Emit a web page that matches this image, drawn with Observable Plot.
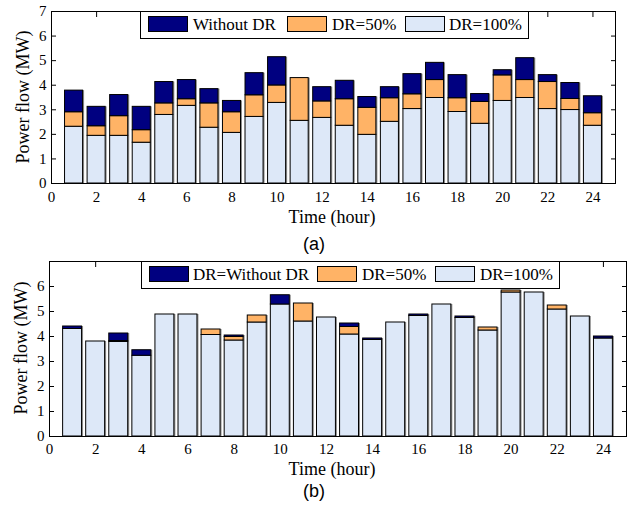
<!DOCTYPE html>
<html><head><meta charset="utf-8">
<script src="https://cdn.jsdelivr.net/npm/d3@7"></script>
<script src="https://cdn.jsdelivr.net/npm/@observablehq/plot@0.6"></script>
<style>
body{margin:0;background:#fff;}
#page{position:relative;width:631px;height:508px;overflow:hidden;font-family:"Liberation Serif","Times New Roman",serif;}
.chart{position:absolute;left:0;}
.legend{position:absolute;border:1px solid #000;background:#fff;box-sizing:border-box;}
.sw{position:absolute;height:16px;width:40px;border:1px solid #000;box-sizing:border-box;}
.lt{position:absolute;font-size:17px;line-height:17px;white-space:nowrap;color:#000;}
#overlay{position:absolute;left:0;top:0;pointer-events:none;}
</style></head><body><div id="page"></div>
<script>
// ---------------- data ----------------
const hours = [1,2,3,4,5,6,7,8,9,10,11,12,13,14,15,16,17,18,19,20,21,22,23,24];
const namesA = ["Without DR","DR=50%","DR=100%"];
const namesB = ["DR=Without DR","DR=50%","DR=100%"];
const seriesColors = ["#000080","#FFB366","#DDE8F8"];

// (a) power flow (MW)
const aNoDR  = [3.78,3.12,3.60,3.12,4.13,4.21,3.84,3.36,4.49,5.14,4.29,3.92,4.18,3.52,3.92,4.45,4.91,4.41,3.64,4.61,5.10,4.41,4.09,3.55];
const aDR50  = [2.90,2.33,2.74,2.17,3.26,3.43,3.26,2.90,3.59,3.99,4.29,3.34,3.43,3.08,3.47,3.63,4.21,3.47,3.32,4.40,4.21,4.13,3.44,2.86];
const aDR100 = [2.31,1.94,1.94,1.66,2.79,3.16,2.27,2.06,2.71,3.28,2.55,2.67,2.35,1.98,2.51,3.03,3.48,2.91,2.43,3.36,3.48,3.03,2.99,2.35];

// (b) power flow (MW)
const bNoDR  = [4.40,3.80,4.12,3.45,4.88,4.88,4.28,4.04,4.84,5.65,5.32,4.76,4.52,3.92,4.56,4.88,5.28,4.80,4.36,5.84,5.76,5.24,4.80,4.00];
const bDR50  = [4.30,3.80,3.82,3.23,4.88,4.88,4.28,3.98,4.84,5.28,5.32,4.76,4.38,3.86,4.56,4.82,5.28,4.74,4.36,5.84,5.76,5.24,4.80,3.92];
const bDR100 = [4.30,3.80,3.78,3.23,4.88,4.88,4.06,3.84,4.56,5.28,4.60,4.76,4.08,3.86,4.56,4.82,5.28,4.74,4.24,5.76,5.76,5.08,4.80,3.92];

const xTicks  = [0,2,4,6,8,10,12,14,16,18,20,22,24];
const yTicksA = [0,1,2,3,4,5,6,7];
const yTicksB = [0,1,2,3,4,5,6];

// ---------------- helpers ----------------
function segments(noDR, dr50, dr100, names) {
  const out = [];
  hours.forEach((h, i) => {
    out.push({h, lo: 0, hi: dr100[i], s: names[2]});
    if (dr50[i] > dr100[i]) out.push({h, lo: dr100[i], hi: dr50[i], s: names[1]});
    if (noDR[i] > dr50[i]) out.push({h, lo: dr50[i], hi: noDR[i], s: names[0]});
  });
  return out;
}

const fmt = d3.format("d");

function makeChart(cfg) {
  const w = cfg.barWidth;
  const segs = segments(cfg.noDR, cfg.dr50, cfg.dr100, cfg.names);
  const chart = Plot.plot({
    width: 631,
    height: cfg.height,
    marginTop: cfg.mt, marginBottom: cfg.mb, marginLeft: cfg.ml, marginRight: cfg.mr,
    style: {fontFamily: '"Liberation Serif","Times New Roman",serif', fontSize: "15px", color: "#000", background: "transparent"},
    x: {domain: [0, 25]},
    y: {domain: [0, 7]},
    color: {domain: cfg.names, range: seriesColors},
    marks: [
      Plot.axisY({anchor: "left", ticks: cfg.yTicks, tickSize: 5, insetLeft: 5, fill: "none", label: null}),
      Plot.axisY({anchor: "right", ticks: cfg.yTicks, tickSize: 5, insetRight: 5, fill: "none", label: null}),
      Plot.axisX({anchor: "top", ticks: xTicks, tickSize: 5, insetTop: 5, fill: "none", label: null}),
      Plot.axisX({anchor: "bottom", ticks: xTicks, tickSize: 5, insetBottom: 5, fill: "none", label: null}),
      Plot.axisY({anchor: "left", ticks: cfg.yTicks, tickFormat: fmt, tickSize: 0, tickPadding: 5, label: null}),
      Plot.axisX({anchor: "bottom", ticks: xTicks, tickFormat: fmt, tickSize: 0, tickPadding: cfg.xPad, label: null}),
      Plot.rect(hours, {x1: d => d - w / 2, x2: d => d + w / 2, y1: 0, y2: (d, i) => cfg.noDR[i], fill: "#8c8c8c", dx: 1.5}),
      Plot.rect(segs, {x1: d => d.h - w / 2, x2: d => d.h + w / 2, y1: "lo", y2: "hi", fill: "s", stroke: "#000", strokeWidth: 1}),
      Plot.frame({stroke: "#000", strokeWidth: 1})
    ]
  });
  chart.classList.add("chart");
  chart.style.top = cfg.top + "px";
  return chart;
}

function makeLegend(page, box, items) {
  const lg = document.createElement("div");
  lg.className = "legend";
  Object.assign(lg.style, {left: box.x + "px", top: box.y + "px", width: box.w + "px", height: box.h + "px"});
  items.forEach(it => {
    const sw = document.createElement("div");
    sw.className = "sw";
    Object.assign(sw.style, {left: (it.sx - box.x - 1) + "px", top: (box.sy - box.y - 1) + "px", background: it.color});
    lg.appendChild(sw);
    const t = document.createElement("div");
    t.className = "lt";
    t.textContent = it.label;
    Object.assign(t.style, {left: (it.tx - box.x - 1) + "px", top: (box.ty - box.y - 1) + "px"});
    lg.appendChild(t);
  });
  page.appendChild(lg);
}

// ---------------- build ----------------
const page = document.getElementById("page");

page.appendChild(makeChart({
  noDR: aNoDR, dr50: aDR50, dr100: aDR100, names: namesA, yTicks: yTicksA,
  top: 0, height: 210, mt: 11, mb: 27, ml: 51, mr: 16, barWidth: 0.8, xPad: 8
}));
page.appendChild(makeChart({
  noDR: bNoDR, dr50: bDR50, dr100: bDR100, names: namesB, yTicks: yTicksB,
  top: 250, height: 212, mt: 11, mb: 26, ml: 49, mr: 5, barWidth: 0.82, xPad: 7
}));

makeLegend(page, {x: 140, y: 11, w: 389, h: 28, sy: 16, ty: 16}, [
  {label: namesA[0], color: seriesColors[0], sx: 148, tx: 193},
  {label: namesA[1], color: seriesColors[1], sx: 287, tx: 332},
  {label: namesA[2], color: seriesColors[2], sx: 405, tx: 449}
]);
makeLegend(page, {x: 141, y: 261, w: 419, h: 28, sy: 266, ty: 266}, [
  {label: namesB[0], color: seriesColors[0], sx: 149, tx: 193},
  {label: namesB[1], color: seriesColors[1], sx: 317, tx: 362},
  {label: namesB[2], color: seriesColors[2], sx: 435, tx: 480}
]);

// titles and captions
const ns = "http://www.w3.org/2000/svg";
const ov = document.createElementNS(ns, "svg");
ov.setAttribute("id", "overlay");
ov.setAttribute("width", 631);
ov.setAttribute("height", 508);
function addText(str, x, y, opts) {
  const t = document.createElementNS(ns, "text");
  t.textContent = str;
  t.setAttribute("x", x); t.setAttribute("y", y);
  t.setAttribute("text-anchor", "middle");
  t.setAttribute("font-family", opts.font || '"Liberation Serif","Times New Roman",serif');
  t.setAttribute("font-size", opts.size);
  t.setAttribute("fill", "#000");
  if (opts.rotate) t.setAttribute("transform", `rotate(-90 ${x} ${y})`);
  ov.appendChild(t);
}
addText("Power flow (MW)", 28.5, 97, {size: 18, rotate: true});
addText("Time (hour)", 332, 222.5, {size: 18});
addText("(a)", 314, 250, {size: 18, font: '"Liberation Sans",Arial,sans-serif'});
addText("Power flow (MW)", 27, 348, {size: 18, rotate: true});
addText("Time (hour)", 332, 474.5, {size: 18});
addText("(b)", 314, 497, {size: 18, font: '"Liberation Sans",Arial,sans-serif'});
page.appendChild(ov);
</script>
</body></html>
